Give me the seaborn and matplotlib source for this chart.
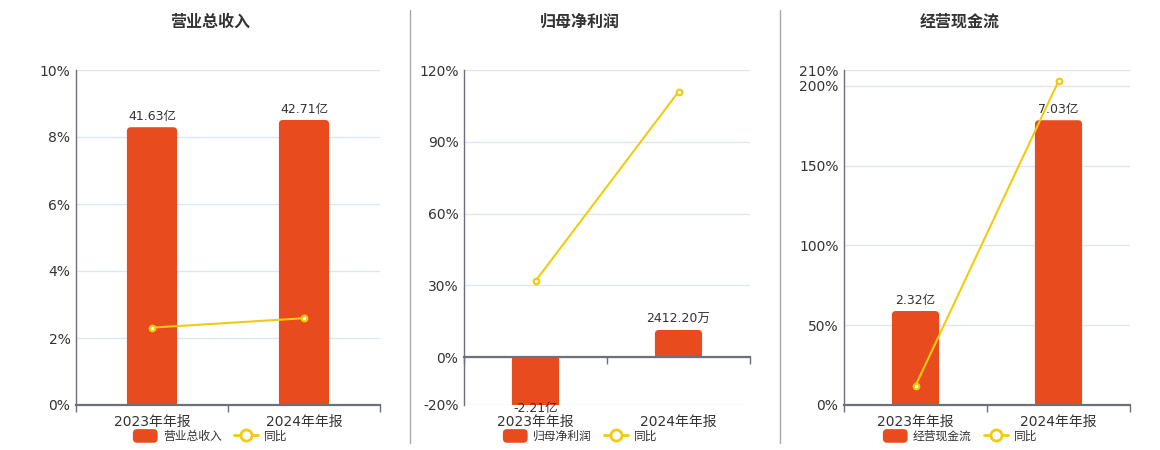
import numpy as np
import matplotlib
matplotlib.use("Agg")
import matplotlib.pyplot as plt
from matplotlib.patches import FancyBboxPatch, Patch
from matplotlib.lines import Line2D
from matplotlib.legend_handler import HandlerPatch
from matplotlib.ticker import FuncFormatter
import seaborn as sns

# data
periods = ["2023年年报", "2024年年报"]
titles = ["营业总收入", "归母净利润", "经营现金流"]
amounts = [[41.63, 42.71], [-2.21, 0.2412], [2.32, 7.03]]          # 亿
amount_labels = [["41.63亿", "42.71亿"], ["-2.21亿", "2412.20万"], ["2.32亿", "7.03亿"]]
yoy = [[2.31, 2.59], [31.8, 110.9], [12.1, 203.0]]                 # 同比 %
pct_ticks = [[0, 2, 4, 6, 8, 10], [-20, 0, 30, 60, 90, 120], [0, 50, 100, 150, 200, 210]]

BAR_C = "#E84B1D"
LINE_C = "#F2CB0F"
AXIS_C = "#6E7079"
GRID_C = "#E0E6F1"
TEXT_C = "#333333"

sns.set_theme(style="white")
plt.rcParams["font.family"] = ["DejaVu Sans", "Noto Sans CJK SC"]
plt.rcParams["axes.unicode_minus"] = False


class RoundPatchHandler(HandlerPatch):
    # legend swatch with rounded corners, like the bars
    def create_artists(self, legend, orig_handle, xdescent, ydescent,
                       width, height, fontsize, trans):
        p = FancyBboxPatch((-xdescent, -ydescent), width, height,
                           boxstyle="round,pad=0,rounding_size=3",
                           facecolor=orig_handle.get_facecolor(),
                           edgecolor="none", transform=trans)
        return [p]


W, H = 1160, 450
fig = plt.figure(figsize=(W / 100, H / 100), dpi=100)

# panel boxes in pixels: left, right, top, bottom
boxes = [(76, 380, 70, 405), (464, 750, 70, 405), (844, 1130, 70, 405)]
title_x = [210, 580, 960]
bar_top = [50.2, 2.55, 8.27]   # hidden scale for the bars

for i in range(3):
    l, r, t, b = boxes[i]
    rect = [l / W, 1 - b / H, (r - l) / W, (b - t) / H]
    ax = fig.add_axes(rect)
    ax_b = ax.twinx()
    ax_l = ax.twinx()

    lo, hi = pct_ticks[i][0], pct_ticks[i][-1]
    f0 = (0 - lo) / (hi - lo)
    b_hi = bar_top[i]
    b_lo = -b_hi * f0 / (1 - f0)

    # bars
    sns.barplot(x=periods, y=amounts[i], ax=ax_b, color=BAR_C, saturation=1,
                width=0.33, linewidth=0, edgecolor="none")
    ax_b.set_ylim(b_lo, b_hi)

    # yoy line
    sns.pointplot(x=periods, y=yoy[i], ax=ax_l, color=LINE_C, errorbar=None,
                  markers="o", linestyles="-", linewidth=1.5, markersize=4,
                  markerfacecolor="white", markeredgecolor=LINE_C, markeredgewidth=1.6)
    ax_l.set_ylim(lo, hi)

    # main percent axis
    ax.set_ylim(lo, hi)
    ax.set_yticks(pct_ticks[i])
    ax.yaxis.set_major_formatter(FuncFormatter(lambda v, p: f"{v:.0f}%"))
    ax.grid(axis="y", color=GRID_C, linewidth=1)
    ax.grid(axis="x", visible=False)
    ax.set_xlim(-0.5, len(periods) - 0.5)
    ax.set_xticks(range(len(periods)))
    ax.set_xticklabels(periods)
    for s in ["top", "right", "bottom"]:
        ax.spines[s].set_visible(False)
    ax.spines["left"].set_color(AXIS_C)
    ax.spines["left"].set_linewidth(1)
    ax.tick_params(axis="y", length=0, pad=4, labelsize=10, labelcolor=TEXT_C)
    ax.tick_params(axis="x", length=0, pad=7, labelsize=10, labelcolor=TEXT_C)
    ax.set_xlabel("")
    ax.set_ylabel("")

    for a in (ax_b, ax_l):
        a.set_yticks([])
        a.set_ylabel("")
        a.set_xlabel("")
        for s in a.spines.values():
            s.set_visible(False)

    # baseline axis with category boundary ticks
    sec = ax_l.secondary_xaxis(f0)
    sec.set_xticks(np.arange(len(periods) + 1) - 0.5)
    sec.set_xticklabels([])
    sec.tick_params(axis="x", length=5, width=1, color=AXIS_C, direction="out")
    for s in sec.spines.values():
        s.set_color(AXIS_C)
        s.set_linewidth(1.6)

    # rounded bar ends
    x_per_px = len(periods) / (r - l)
    y_per_px = (b_hi - b_lo) / (b - t)
    rad = 4 * x_per_px
    for p in list(ax_b.patches):
        x, y, w, h = p.get_x(), p.get_y(), p.get_width(), p.get_height()
        fb = FancyBboxPatch((x, min(y, y + h)), w, abs(h),
                            boxstyle=f"round,pad=0,rounding_size={rad}",
                            mutation_aspect=y_per_px / x_per_px,
                            facecolor=BAR_C, edgecolor="none", linewidth=0)
        ax_b.add_patch(fb)
        p.set_height(h / 2)

    # bar value labels
    for j, v in enumerate(amounts[i]):
        if v >= 0:
            ax_b.annotate(amount_labels[i][j], xy=(j, v), xytext=(0, 3),
                          textcoords="offset points", ha="center", va="bottom",
                          fontsize=9, color=TEXT_C)
        else:
            ax_b.annotate(amount_labels[i][j], xy=(j, max(v, b_lo)), xytext=(0, 2),
                          textcoords="offset points", ha="center", va="top",
                          fontsize=9, color=TEXT_C, annotation_clip=False)

    # title
    fig.text(title_x[i] / W, 1 - 22 / H, titles[i], ha="center", va="center",
             fontsize=11.5, fontweight="bold", color=TEXT_C)

    # legend
    handles = [Patch(facecolor=BAR_C, edgecolor="none"),
               Line2D([], [], color=LINE_C, lw=2, marker="o", markersize=8,
                      markerfacecolor="white", markeredgecolor=LINE_C, markeredgewidth=2)]
    ax_l.legend(handles, [titles[i], "同比"], loc="center",
                bbox_to_anchor=(title_x[i] / W, 1 - 436 / H), bbox_transform=fig.transFigure,
                ncol=2, frameon=False, fontsize=8.5, handlelength=2.1, handleheight=1.4,
                columnspacing=1.0, handletextpad=0.45, labelcolor=TEXT_C,
                handler_map={Patch: RoundPatchHandler()})

# separators between panels
for sx in (410, 780):
    fig.add_artist(Line2D([sx / W, sx / W], [1 - 10 / H, 1 - 443 / H],
                          color="#A8A8A8", lw=1, transform=fig.transFigure))

fig.savefig("out.png", dpi=100)
